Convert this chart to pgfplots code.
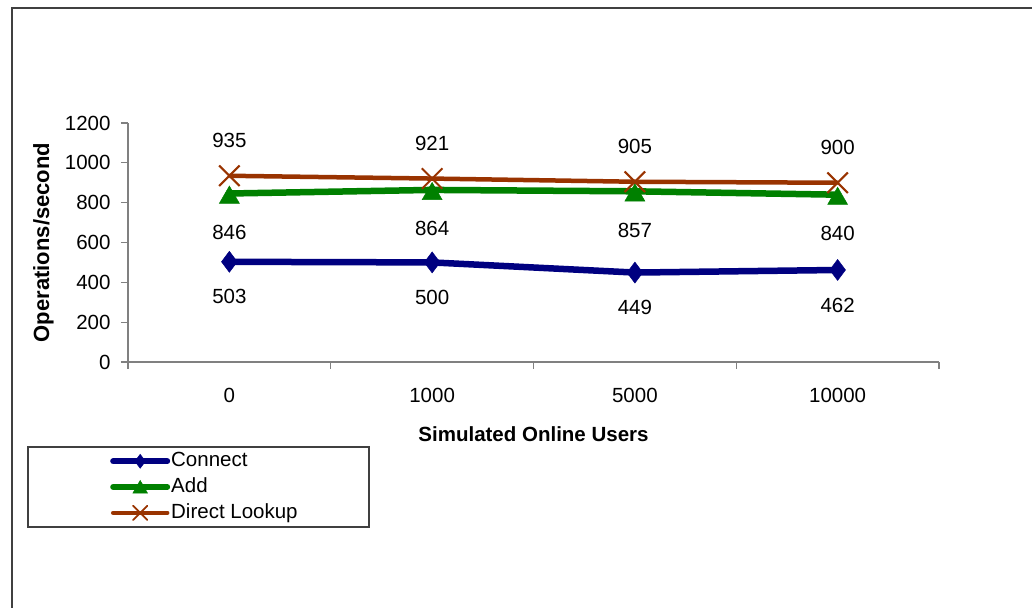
\documentclass[border=0pt]{standalone}
\usepackage{fontspec}
\setmainfont{Liberation Sans}
\usepackage{pgfplots}
\pgfplotsset{compat=1.18}
\definecolor{connectblue}{HTML}{000080}
\definecolor{addgreen}{HTML}{008000}
\definecolor{lookupbrown}{HTML}{993300}
\definecolor{framegray}{HTML}{404040}
\definecolor{axisgray}{HTML}{808080}

\begin{document}
\fontsize{20.5}{24}\selectfont
\begin{tikzpicture}
\useasboundingbox (0pt,0pt) rectangle (1032pt,607pt);
% chart frame (left and top edges)
\draw[framegray, line width=1.5pt] (12pt,-5pt) -- (12pt,599pt) -- (1040pt,599pt);
\begin{axis}[
  at={(128pt,245pt)}, anchor=south west,
  scale only axis, width=811pt, height=239pt,
  xmin=-0.5, xmax=3.5, ymin=0, ymax=1200,
  axis lines*=left,
  axis line style={axisgray, line width=1.2pt, -},
  tick style={axisgray, line width=1.2pt},
  tick align=outside, major tick length=7pt,
  /pgf/number format/assume math mode=true,
  /pgf/number format/1000 sep={},
  ytick={0,200,...,1200},
  yticklabel style={anchor=east, xshift=-3.5pt},
  xtick={-0.5,0.5,1.5,2.5,3.5},
  xticklabels={,,,,},
  extra x ticks={0,1,2,3},
  extra x tick labels={0,1000,5000,10000},
  extra x tick style={major tick length=0pt,
    xticklabel style={anchor=center, yshift=-33pt}},
  xlabel={Simulated Online Users},
  ylabel={Operations/second},
  every axis x label/.style={at={(rel axis cs:0.5,0)}, yshift=-72.5pt,
    anchor=center, font=\fontsize{20.5}{24}\selectfont\bfseries},
  every axis y label/.style={at={(rel axis cs:0,0.5)}, xshift=-84.5pt,
    rotate=90, anchor=center, font=\fontsize{22}{26}\selectfont\bfseries},
  clip=false,
  legend cell align=left,
  legend style={draw=none, fill=none, inner sep=0pt, row sep=6pt,
    at={(rel axis cs:-0.0222,-0.374)}, anchor=north west,
    nodes={inner sep=1pt}},
  legend image code/.code={
    \draw[mark repeat=2,mark phase=2,line cap=round,#1]
      plot coordinates {(0pt,0pt)(27pt,0pt)(54pt,0pt)};},
  nodes near coords,
]
\addplot[connectblue, line width=6.5pt, mark=diamond*,
  mark size=10.5pt, mark options={line width=0.5pt}, forget plot,
  every node near coord/.append style={text=black, anchor=center, yshift=-35pt}]
  coordinates {(0,503) (1,500) (2,449) (3,462)};
\addplot[addgreen, line width=6.5pt, mark=triangle*,
  mark size=11.5pt, mark options={line width=0.5pt, yshift=-4pt}, forget plot,
  every node near coord/.append style={text=black, anchor=center, yshift=-35pt}]
  coordinates {(0,846) (1,864) (2,857) (3,840)};
\addplot[lookupbrown, line width=4.5pt, mark=x,
  mark size=14.5pt, mark options={line width=2pt}, forget plot,
  every node near coord/.append style={text=black, anchor=center, yshift=35pt}]
  coordinates {(0,935) (1,921) (2,905) (3,900)};
% legend keys with smaller marks
\addlegendimage{connectblue, line width=6pt, mark=diamond*, mark size=7pt,
  mark options={line width=0.5pt}}
\addlegendentry{Connect}
\addlegendimage{addgreen, line width=6pt, mark=triangle*, mark size=8.5pt,
  mark options={line width=0.5pt, yshift=-2pt}}
\addlegendentry{Add}
\addlegendimage{lookupbrown, line width=4.5pt, mark=x, mark size=10pt,
  mark options={line width=1.8pt}}
\addlegendentry{Direct Lookup}
\end{axis}
% legend frame
\draw[framegray, line width=1.2pt] (28pt,160pt) rectangle (369pt,80pt);
\end{tikzpicture}
\end{document}
